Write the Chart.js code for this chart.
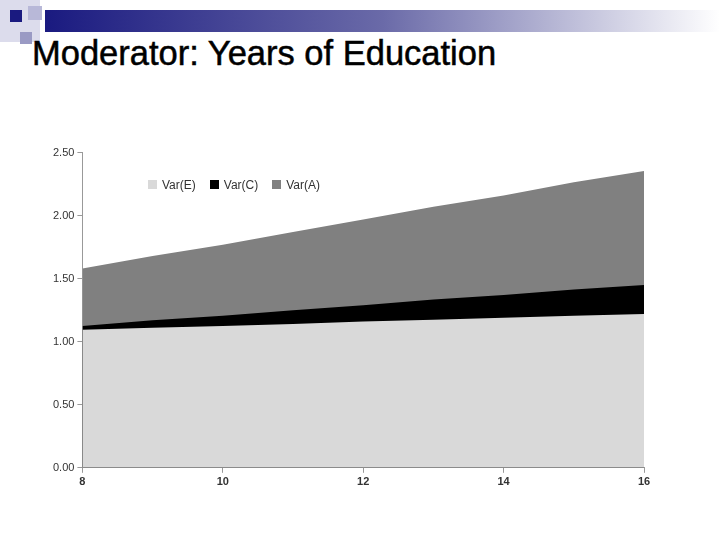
<!DOCTYPE html>
<html><head><meta charset="utf-8">
<script src="https://cdn.jsdelivr.net/npm/chart.js@4"></script>
<style>
body{margin:0;width:720px;height:540px;background:#fff;position:relative;overflow:hidden;font-family:"Liberation Sans",Arial,sans-serif}
.sq{position:absolute}
#bar{position:absolute;left:45px;top:10px;width:675px;height:22px;background:linear-gradient(to right,#1a1a80,#6a6aa8 50%,#fff)}
h1{position:absolute;left:32px;top:34px;margin:0;font-size:34.5px;font-weight:normal;color:#000;-webkit-text-stroke:0.5px #000}
#wrap{position:absolute;left:50px;top:143px;width:606px;height:349px}
#legend{position:absolute;left:148px;top:178px;font-size:12px;color:#333}
#legend span{display:inline-block;width:9px;height:9px;margin:0 5px 0 0}
#legend b{font-weight:normal;margin-right:14px}
</style></head><body>
<div class="sq" style="left:0;top:0;width:40px;height:42px;background:#dcdcec"></div>
<div class="sq" style="left:10px;top:10px;width:12px;height:12px;background:#1a1a80"></div>
<div class="sq" style="left:28px;top:6px;width:14px;height:14px;background:#b8b8d8"></div>
<div class="sq" style="left:20px;top:32px;width:12px;height:12px;background:#9a9ac4"></div>
<div id="bar"></div>
<h1>Moderator: Years of Education</h1>
<div id="wrap"><canvas id="c"></canvas></div>
<div id="legend"></div>
<script>
// years of education on the x axis
const years = [8, 9, 10, 11, 12, 13, 14, 15, 16];
const varE = [1.095, 1.11, 1.125, 1.14, 1.16, 1.175, 1.19, 1.205, 1.22];
const varC = [0.03, 0.06, 0.08, 0.11, 0.13, 0.16, 0.18, 0.21, 0.23];
const varA = [0.455, 0.51, 0.565, 0.62, 0.68, 0.735, 0.79, 0.85, 0.905];
const yTicks = [0, 0.5, 1, 1.5, 2, 2.5];

function series(label, vals, color) {
    return {
        label: label,
        data: vals.map((v, i) => ({x: years[i], y: v})),
        backgroundColor: color,
        borderColor: color,
        borderWidth: 0,
        pointRadius: 0,
        fill: true
    };
}

const chart = new Chart(document.getElementById("c"), {
    type: "line",
    data: {
        datasets: [
            series("Var(E)", varE, "#d9d9d9"),
            series("Var(C)", varC, "#000000"),
            series("Var(A)", varA, "#808080")
        ]
    },
    options: {
        animation: false,
        responsive: true,
        maintainAspectRatio: false,
        layout: {padding: {right: 12}},
        plugins: {legend: {display: false}, tooltip: {enabled: false}},
        scales: {
            x: {
                type: "linear", min: 8, max: 16,
                afterBuildTicks: ax => { ax.ticks = [8, 10, 12, 14, 16].map(v => ({value: v})); },
                grid: {drawOnChartArea: false, color: "#999", tickLength: 5},
                border: {color: "#999"},
                ticks: {color: "#333", font: {size: 11, weight: "bold"}}
            },
            y: {
                stacked: true, min: 0, max: 2.5,
                afterBuildTicks: ax => { ax.ticks = yTicks.map(v => ({value: v})); },
                grid: {drawOnChartArea: false, color: "#999", tickLength: 5},
                border: {color: "#999"},
                ticks: {color: "#333", font: {size: 11}, callback: v => v.toFixed(2)}
            }
        }
    }
});

// plain legend drawn from the dataset labels and colours
document.getElementById("legend").innerHTML = chart.data.datasets
    .map(d => '<span style="background:' + d.backgroundColor + '"></span><b>' + d.label + '</b>').join("");
</script>
</body></html>
